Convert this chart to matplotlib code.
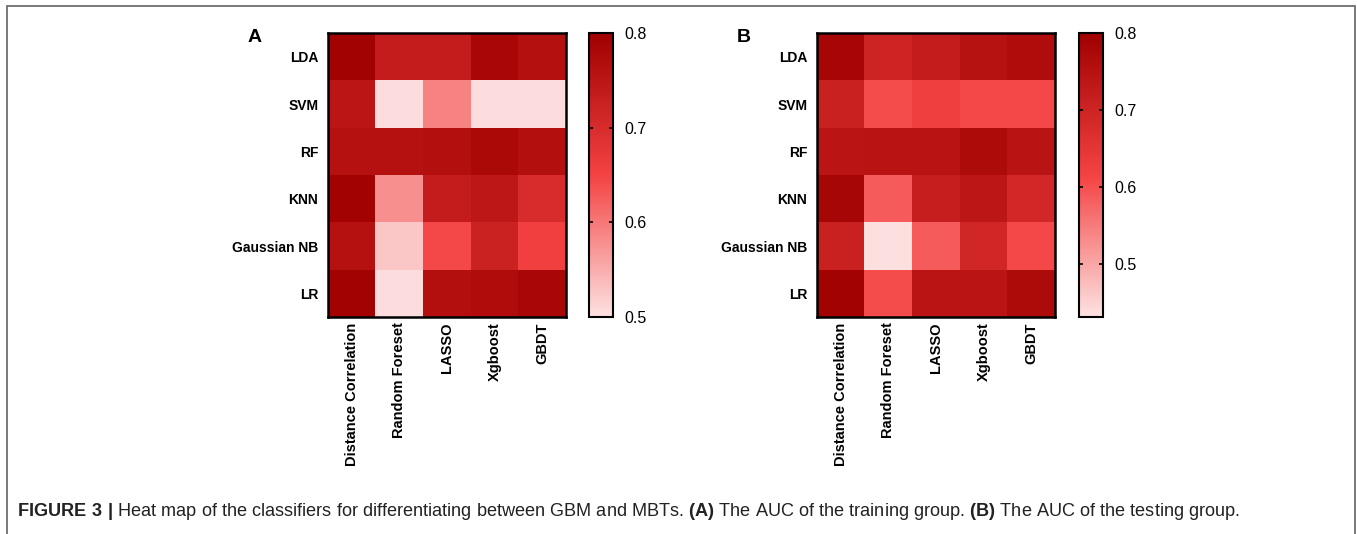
import matplotlib
matplotlib.use('Agg')
import matplotlib.pyplot as plt
import numpy as np
from matplotlib.colors import LinearSegmentedColormap
from matplotlib.patches import Rectangle

plt.rcParams['font.family'] = ['Liberation Sans', 'DejaVu Sans']
plt.rcParams['mathtext.fontset'] = 'custom'
plt.rcParams['mathtext.rm'] = 'Liberation Sans'
plt.rcParams['mathtext.bf'] = 'Liberation Sans:bold'

classifiers = ['LDA', 'SVM', 'RF', 'KNN', 'Gaussian NB', 'LR']
selectors = ['Distance Correlation', 'Random Foreset', 'LASSO', 'Xgboost', 'GBDT']

# AUC, training group (rows = classifiers, cols = feature selectors)
auc_train = [
    [0.795, 0.734, 0.734, 0.782, 0.762],
    [0.750, 0.505, 0.590, 0.505, 0.505],
    [0.760, 0.760, 0.765, 0.780, 0.765],
    [0.795, 0.578, 0.734, 0.745, 0.700],
    [0.760, 0.526, 0.643, 0.725, 0.655],
    [0.795, 0.505, 0.765, 0.770, 0.782],
]
# AUC, testing group
auc_test = [
    [0.780, 0.700, 0.720, 0.748, 0.763],
    [0.708, 0.604, 0.623, 0.608, 0.608],
    [0.741, 0.745, 0.745, 0.770, 0.745],
    [0.782, 0.586, 0.715, 0.737, 0.690],
    [0.708, 0.435, 0.586, 0.693, 0.608],
    [0.793, 0.604, 0.741, 0.741, 0.770],
]
ranges = [(0.5, 0.8), (0.431, 0.8)]
cbar_ticks = [[0.5, 0.6, 0.7, 0.8], [0.5, 0.6, 0.7, 0.8]]
panels = ['A', 'B']

cmap = LinearSegmentedColormap.from_list(
    'reds', [(0.0, '#fde2e2'), (0.5, '#f44242'), (1.0, '#a00000')])

fig = plt.figure(figsize=(13.57, 5.34), dpi=100)

# outer frame
fig.patches.append(Rectangle((7 / 1357, -0.01), (1355 - 7) / 1357, 1 - 6 / 534 + 0.01,
                             transform=fig.transFigure, fill=False,
                             edgecolor='#6e6e6e', linewidth=1.3))

hm_left = [328 / 1357, 817 / 1357]
cb_left = [589 / 1357, 1079 / 1357]
bottom, height = 1 - 317 / 534, 284 / 534

for k, data in enumerate([auc_train, auc_test]):
    ax = fig.add_axes([hm_left[k], bottom, 238 / 1357, height])
    vmin, vmax = ranges[k]
    im = ax.imshow(np.array(data), cmap=cmap, vmin=vmin, vmax=vmax, aspect='auto')
    ax.set_xticks(range(len(selectors)))
    ax.set_xticklabels(selectors, rotation=90, fontsize=10.5, fontweight='bold')
    ax.set_yticks(range(len(classifiers)))
    ax.set_yticklabels(classifiers, fontsize=10, fontweight='bold')
    ax.tick_params(axis='x', length=0, pad=4)
    ax.tick_params(axis='y', length=0, pad=7)
    for s in ax.spines.values():
        s.set_linewidth(1.8)
    fig.text(hm_left[k] - 80 / 1357, 1 - 38 / 534, panels[k], fontsize=14,
             fontweight='bold', va='center', ha='left')

    cax = fig.add_axes([cb_left[k], bottom, 24 / 1357, height])
    cb = fig.colorbar(im, cax=cax)
    cb.set_ticks(cbar_ticks[k])
    cb.set_ticklabels([f'{t:.1f}' for t in cbar_ticks[k]])
    cax.tick_params(direction='in', left=True, right=True, length=3, width=1.2,
                    labelsize=11.5, pad=8)
    cb.outline.set_linewidth(1.5)

fig.text(17 / 1357, 1 - 512 / 534,
         r'$\mathbf{FIGURE\ 3\ |}$ Heat map of the classifiers for differentiating between GBM and MBTs. '
         r'$\mathbf{(A)}$ The AUC of the training group. $\mathbf{(B)}$ The AUC of the testing group.',
         fontsize=13.1, va='center', ha='left', color='#222222')

plt.savefig('out.png', dpi=100)
